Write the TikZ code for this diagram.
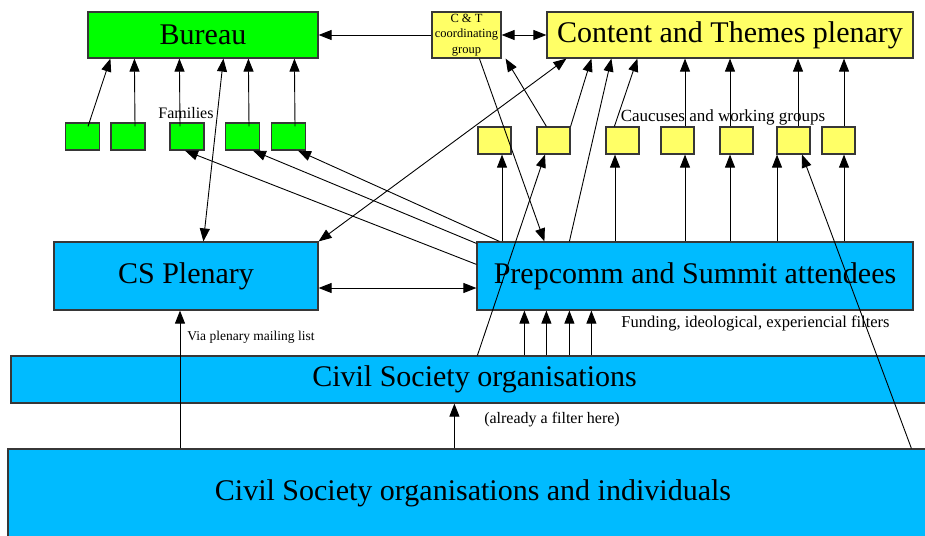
\documentclass[tikz,border=0pt]{standalone}
\usepackage{fontspec}
\setmainfont{Liberation Serif}
\usetikzlibrary{arrows.meta}
\definecolor{gfill}{RGB}{0,255,0}
\definecolor{yfill}{RGB}{255,255,102}
\definecolor{bfill}{RGB}{0,187,255}
\definecolor{edge}{RGB}{55,55,55}
\begin{document}
\begin{tikzpicture}[x=1pt,y=-1pt,
  box/.style={draw=edge, line width=1.2pt, inner sep=0pt, rectangle},
  gbox/.style={box, fill=gfill, minimum width=34pt, minimum height=27pt},
  ybox/.style={box, fill=yfill},
  ysmall/.style={ybox, minimum width=33pt, minimum height=27pt},
  bbox/.style={box, fill=bfill},
  big/.style={font=\fontsize{30}{36}\selectfont},
  arr/.style={-{Triangle[length=13pt,width=10pt]}, line width=0.9pt},
  arrb/.style={{Triangle[length=13pt,width=10pt]}-{Triangle[length=13pt,width=10pt]}, line width=0.9pt},
  lbl/.style={inner sep=0pt, font=\fontsize{16}{19}\selectfont}]
\useasboundingbox[fill=white] (0,0) rectangle (925,535);

% main boxes
\node[box, fill=gfill, big, minimum width=230pt, minimum height=46pt] (bureau) at (203,35) {Bureau};
\node[ybox, minimum width=69pt, minimum height=46pt, align=center, font=\fontsize{12.5}{15.5}\selectfont] (ct) at (466.5,35) {C \& T\\coordinating\\group};
\node[ybox, big, minimum width=366pt, minimum height=46pt] (content) at (730,35) {Content and Themes plenary};
\node[bbox, big, minimum width=264pt, minimum height=68pt] (csp) at (186,276) {CS Plenary};
\node[bbox, big, minimum width=436pt, minimum height=68pt] (prep) at (695,276) {Prepcomm and Summit attendees};
\node[bbox, big, minimum width=927pt, minimum height=47pt] (cso) at (474.5,379.5) {Civil Society organisations};
\node[bbox, big, minimum width=930pt, minimum height=88pt] (csoi) at (473,493) {Civil Society organisations and individuals};

% families
\node[gbox] (g1) at (82.5,136.5) {};
\node[gbox] (g2) at (128,136.5) {};
\node[gbox] (g3) at (187,136.5) {};
\node[gbox] (g4) at (242.5,136.5) {};
\node[gbox] (g5) at (288.5,136.5) {};

% caucuses
\node[ysmall] (y1) at (494.5,140.5) {};
\node[ysmall] (y2) at (553.5,140.5) {};
\node[ysmall] (y3) at (622.5,140.5) {};
\node[ysmall] (y4) at (677.5,140.5) {};
\node[ysmall] (y5) at (736.5,140.5) {};
\node[ysmall] (y6) at (793.5,140.5) {};
\node[ysmall] (y7) at (838.5,140.5) {};

% helper coordinates
\coordinate (y1a) at ([xshift=7.5pt]y1.south);
\coordinate (y3a) at ([xshift=-7.5pt]y3.south);
\coordinate (y4a) at ([xshift=7.5pt]y4.south);
\coordinate (y5a) at ([xshift=-6.5pt]y5.south);
\coordinate (y6a) at ([xshift=-16.5pt]y6.south);
\coordinate (y6b) at ([xshift=4.5pt]y6.south);
\coordinate (y7a) at ([xshift=5.5pt]y7.south);
\coordinate (f1) at ([xshift=48pt]prep.south west);
\coordinate (f2) at ([xshift=70pt]prep.south west);
\coordinate (f3) at ([xshift=93pt]prep.south west);
\coordinate (f4) at ([xshift=115pt]prep.south west);
\coordinate (acs) at ([xshift=444pt]cso.south west);
\coordinate (via) at ([xshift=-6pt]csp.south);
\coordinate (cpe) at ([yshift=-12pt]csp.east);

% top row connectors
\draw[arr] (ct.west) -- (bureau.east);
\draw[arrb] (ct.east) -- (content.west);

% families to bureau
\draw[arr] ([xshift=5.5pt,yshift=-4pt]g1.north) -- ([xshift=23pt]bureau.south west);
\draw[arr] ([xshift=7pt,yshift=-4pt]g2.north) -- ([xshift=47pt]bureau.south west);
\draw[arr] ([xshift=-7pt,yshift=-4pt]g3.north) -- ([xshift=92pt]bureau.south west);
\draw[arr] ([xshift=6.5pt,yshift=-4pt]g4.north) -- ([xshift=161pt]bureau.south west);
\draw[arr] ([xshift=6.5pt,yshift=-4pt]g5.north) -- ([xshift=207pt]bureau.south west);

% bureau <-> CS plenary
\draw[arrb] ([xshift=136pt]bureau.south west) -- ([xshift=150pt]csp.north west);

% prepcomm to families
\draw[arr] ([xshift=23pt]prep.north west) -- ([xshift=9.5pt]g5.south);
\draw[arr] ([yshift=-2pt]prep.north west) -- ([xshift=10.5pt]g4.south);
\draw[arr] ([yshift=-23pt]prep.north west) -- ([xshift=-2pt]g3.south);

% CS plenary <-> content
\draw[arrb] (csp.north east) -- ([xshift=20pt]content.south west);

% C&T -> prepcomm
\draw[arr] ([xshift=48pt]ct.south west) -- ([xshift=68pt]prep.north west);

% caucus 2
\draw[arr] ([xshift=10pt]y2.north west) -- ([xshift=4pt]ct.south east);
\draw[arr] (y2.north east) -- ([xshift=45pt]content.south west);

% prepcomm -> content
\draw[arr] ([xshift=93pt]prep.north west) -- ([xshift=65pt]content.south west);

% caucus 3 -> content
\draw[arr] ([xshift=9pt]y3.north west) -- ([xshift=91pt]content.south west);

% prepcomm -> caucuses
\draw[arr] (prep.north -| y1a) -- (y1a);
\draw[arr] (prep.north -| y3a) -- (y3a);
\draw[arr] (prep.north -| y4a) -- (y4a);
\draw[arr] (prep.north -| y5a) -- (y5a);
\draw[arr] (prep.north -| y6a) -- (y6a);
\draw[arr] (prep.north -| y7a) -- (y7a);

% caucuses -> content
\draw[arr] (y4.north -| y4a) -- (content.south -| y4a);
\draw[arr] (y5.north -| y5a) -- (content.south -| y5a);
\draw[arr] (y6.north -| y6b) -- (content.south -| y6b);
\draw[arr] (y7.north -| y7a) -- (content.south -| y7a);

% long lines from the bottom
\draw[arr] ([xshift=467pt]cso.north west) -- ([xshift=-8.5pt]y2.south);
\draw[arr] ([xshift=904pt]csoi.north west) -- ([xshift=8.5pt]y6.south);

% filters
\draw[arr] (cso.north -| f1) -- (f1);
\draw[arr] (cso.north -| f2) -- (f2);
\draw[arr] (cso.north -| f3) -- (f3);
\draw[arr] (cso.north -| f4) -- (f4);
\draw[arr] (csoi.north -| acs) -- (acs);
\draw[arr] (csoi.north -| via) -- (via);

% CS plenary <-> prepcomm
\draw[arrb] (cpe) -- (cpe -| prep.west);

% labels
\node[lbl] (lfam) at (186,113) {Families};
\node[lbl, font=\fontsize{17}{20}\selectfont] (lcau) at (723,117) {Caucuses and working groups};
\node[lbl, font=\fontsize{16.5}{20}\selectfont] (lfun) at (755.5,323) {Funding, ideological, experiencial filters};
\node[lbl] (lalr) at (552,420) {(already a filter here)};
\node[lbl, font=\fontsize{13.5}{16}\selectfont] (lvia) at (251,337) {Via plenary mailing list};
\end{tikzpicture}
\end{document}
